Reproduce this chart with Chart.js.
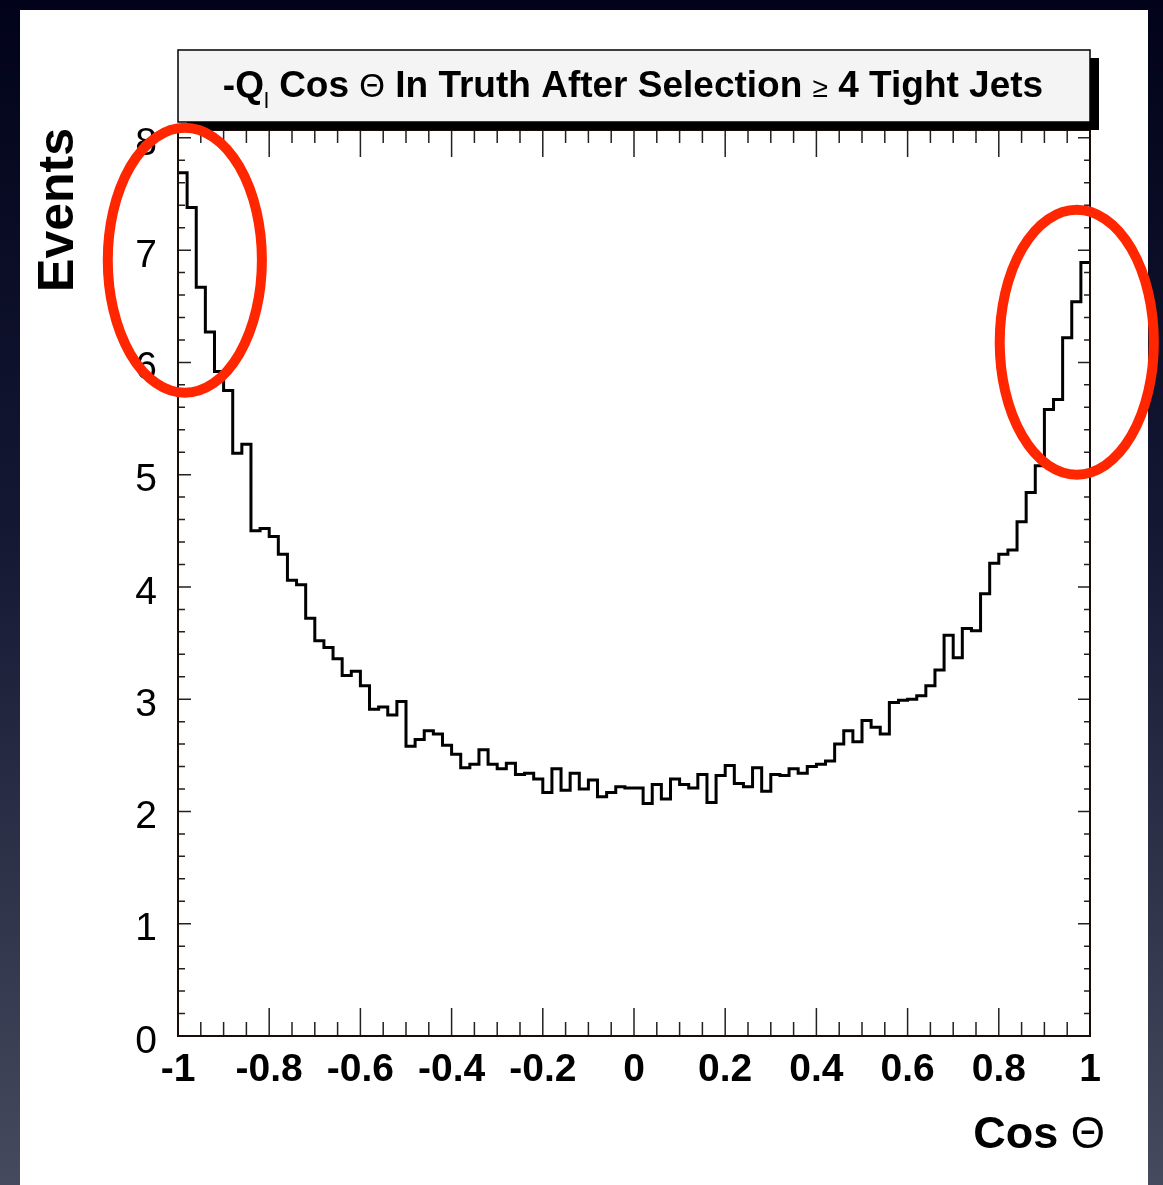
<!DOCTYPE html>
<html>
<head>
<meta charset="utf-8">
<script src="https://cdn.jsdelivr.net/npm/chart.js@4.4.0/dist/chart.umd.min.js"></script>
<style>
  html, body { margin: 0; padding: 0; }
  body {
    width: 1163px; height: 1185px; overflow: hidden; position: relative;
    background: linear-gradient(to bottom, #02031a 0%, #141833 45%, #464a5e 100%);
  }
  #panel { position: absolute; left: 20px; top: 10px; width: 1128px; height: 1175px; background: #fff; }
  #wrap { position: absolute; left: 0; top: 0; width: 1163px; height: 1185px; }
</style>
</head>
<body>
<div id="panel"></div>
<div id="wrap"><canvas id="chart"></canvas></div>
<script>
// histogram range and bin contents (100 bins, -Ql cos theta)
const binLow = -1;
const binHigh = 1;
const events = [
  7.69, 7.38, 6.67, 6.27, 5.92, 5.75, 5.19, 5.27, 4.50, 4.52,
  4.45, 4.29, 4.06, 4.02, 3.72, 3.52, 3.46, 3.36, 3.21, 3.25,
  3.12, 2.91, 2.93, 2.86, 2.98, 2.58, 2.64, 2.72, 2.69, 2.59,
  2.51, 2.39, 2.42, 2.55, 2.42, 2.38, 2.43, 2.33, 2.34, 2.29,
  2.17, 2.38, 2.19, 2.34, 2.20, 2.28, 2.13, 2.17, 2.22, 2.21,
  2.21, 2.07, 2.24, 2.11, 2.29, 2.24, 2.21, 2.33, 2.08, 2.32,
  2.41, 2.25, 2.22, 2.39, 2.18, 2.33, 2.32, 2.38, 2.34, 2.40,
  2.42, 2.45, 2.60, 2.72, 2.62, 2.81, 2.75, 2.69, 2.97, 2.99,
  3.00, 3.03, 3.12, 3.26, 3.57, 3.37, 3.63, 3.61, 3.94, 4.21,
  4.29, 4.33, 4.58, 4.84, 5.08, 5.58, 5.67, 6.22, 6.54, 6.89
];

// axis ticks
const xMajorTicks = [-1, -0.8, -0.6, -0.4, -0.2, 0, 0.2, 0.4, 0.6, 0.8, 1];
const yMajorTicks = [0, 1, 2, 3, 4, 5, 6, 7, 8];
const xMinorDivisions = 4;
const yMinorDivisions = 5;
const yMax = 8.07;

// red hand-drawn ellipses (data units)
const markCenterX = [-0.985, 0.971];
const markCenterY = [6.91, 6.18];
const markHalfWidth = [0.169, 0.169];
const markHalfHeight = [1.18, 1.18];

const xTitle = 'Cos';
const yTitle = 'Events';
const FONT = "'Liberation Sans', Arial, Helvetica, sans-serif";

// step outline points at bin lower edges
const binWidth = (binHigh - binLow) / events.length;
const stepPoints = events.map((v, i) => ({ x: binLow + i * binWidth, y: v }));
stepPoints.push({ x: binHigh, y: events[events.length - 1] });

function drawTitleBox(ctx, area) {
    const left = area.left, right = area.right;
    const top = 50, bottom = 122;

    // shadow
    ctx.fillStyle = '#000';
    ctx.fillRect(left + 9, top + 8, right - left, bottom - top);
    ctx.fillStyle = '#f4f4f4';
    ctx.fillRect(left, top, right - left, bottom - top);
    ctx.strokeStyle = '#000';
    ctx.lineWidth = 1.5;
    ctx.strokeRect(left, top, right - left, bottom - top);

    const parts = [
        { t: '-Q', f: 'bold 37px ' + FONT, dy: 0 },
        { t: 'l', f: '22px ' + FONT, dy: 11 },
        { t: ' Cos ', f: 'bold 37px ' + FONT, dy: 0 },
        { t: '\u0398', f: '33px ' + FONT, dy: 0 },
        { t: ' In Truth After Selection ', f: 'bold 37px ' + FONT, dy: 0 },
        { t: '\u2265', f: '28px ' + FONT, dy: 0 },
        { t: ' 4 Tight Jets', f: 'bold 37px ' + FONT, dy: 0 }
    ];
    let total = 0;
    parts.forEach(p => { ctx.font = p.f; p.w = ctx.measureText(p.t).width; total += p.w; });
    let x = 633 - total / 2;
    const base = 97;
    ctx.fillStyle = '#000';
    ctx.textAlign = 'left';
    ctx.textBaseline = 'alphabetic';
    parts.forEach(p => {
        ctx.font = p.f;
        ctx.fillText(p.t, x, base + p.dy);
        x += p.w;
    });
}

const rootFramePlugin = {
    id: 'rootFrame',
    afterDraw(chart) {
        const ctx = chart.ctx;
        const a = chart.chartArea;
        const xs = chart.scales.x;
        const ys = chart.scales.y;
        ctx.save();

        // ticks pointing inward
        ctx.strokeStyle = '#222';
        ctx.lineWidth = 1.5;
        ctx.beginPath();
        for (let i = 0; i < xMajorTicks.length; i++) {
            const px = xs.getPixelForValue(xMajorTicks[i]);
            ctx.moveTo(px, a.bottom); ctx.lineTo(px, a.bottom - 28);
            ctx.moveTo(px, a.top); ctx.lineTo(px, a.top + 27);
            if (i < xMajorTicks.length - 1) {
                const step = (xMajorTicks[i + 1] - xMajorTicks[i]) / xMinorDivisions;
                for (let k = 1; k < xMinorDivisions; k++) {
                    const mx = xs.getPixelForValue(xMajorTicks[i] + k * step);
                    ctx.moveTo(mx, a.bottom); ctx.lineTo(mx, a.bottom - 14);
                    ctx.moveTo(mx, a.top); ctx.lineTo(mx, a.top + 13);
                }
            }
        }
        for (let i = 0; i < yMajorTicks.length; i++) {
            const py = ys.getPixelForValue(yMajorTicks[i]);
            ctx.moveTo(a.left, py); ctx.lineTo(a.left + 13, py);
            ctx.moveTo(a.right, py); ctx.lineTo(a.right - 12, py);
            const step = 1 / yMinorDivisions;
            for (let k = 1; k < yMinorDivisions; k++) {
                const v = yMajorTicks[i] + k * step;
                if (v > yMax) break;
                const my = ys.getPixelForValue(v);
                ctx.moveTo(a.left, my); ctx.lineTo(a.left + 7, my);
                ctx.moveTo(a.right, my); ctx.lineTo(a.right - 6, my);
            }
        }
        ctx.stroke();

        // frame
        ctx.strokeStyle = '#1a0c08';
        ctx.lineWidth = 2;
        ctx.strokeRect(a.left, a.top, a.right - a.left, a.bottom - a.top);

        drawTitleBox(ctx, a);

        // axis titles
        ctx.fillStyle = '#000';
        ctx.textBaseline = 'alphabetic';
        ctx.textAlign = 'right';
        ctx.font = '44px ' + FONT;
        const thetaW = ctx.measureText('\u0398').width;
        ctx.fillText('\u0398', 1105, 1148);
        ctx.font = 'bold 45px ' + FONT;
        ctx.fillText(xTitle + ' ', 1105 - thetaW, 1148);

        ctx.save();
        ctx.translate(73, 128);
        ctx.rotate(-Math.PI / 2);
        ctx.font = 'bold 50px ' + FONT;
        ctx.textAlign = 'right';
        ctx.fillText(yTitle, 0, 0);
        ctx.restore();

        // red ellipses
        ctx.strokeStyle = 'rgb(255, 38, 0)';
        ctx.lineWidth = 10;
        for (let i = 0; i < markCenterX.length; i++) {
            const cx = xs.getPixelForValue(markCenterX[i]);
            const cy = ys.getPixelForValue(markCenterY[i]);
            const rx = Math.abs(xs.getPixelForValue(markCenterX[i] + markHalfWidth[i]) - cx);
            const ry = Math.abs(ys.getPixelForValue(markCenterY[i] + markHalfHeight[i]) - cy);
            ctx.beginPath();
            ctx.ellipse(cx, cy, rx, ry, 0, 0, Math.PI * 2);
            ctx.stroke();
        }
        ctx.restore();
    }
};

new Chart(document.getElementById('chart'), {
    type: 'line',
    data: {
        datasets: [{
            data: stepPoints,
            stepped: 'before',
            borderColor: '#000',
            borderWidth: 3,
            pointRadius: 0,
            fill: false,
            tension: 0
        }]
    },
    options: {
        responsive: true,
        maintainAspectRatio: false,
        animation: false,
        layout: { padding: { top: 130, right: 73, left: 0, bottom: 0 } },
        plugins: {
            legend: { display: false },
            tooltip: { enabled: false },
            title: { display: false }
        },
        scales: {
            x: {
                type: 'linear',
                min: binLow,
                max: binHigh,
                grid: { display: false },
                border: { display: false },
                afterBuildTicks: scale => { scale.ticks = xMajorTicks.map(v => ({ value: v })); },
                afterFit: scale => { scale.height = 149; },
                ticks: {
                    autoSkip: false,
                    maxRotation: 0,
                    padding: 3,
                    color: '#000',
                    font: { family: FONT, size: 39, weight: 'bold' },
                    callback: v => String(v)
                }
            },
            y: {
                min: 0,
                max: yMax,
                grid: { display: false },
                border: { display: false },
                afterBuildTicks: scale => { scale.ticks = yMajorTicks.map(v => ({ value: v })); },
                afterFit: scale => { scale.width = 178; },
                ticks: {
                    padding: 13,
                    labelOffset: 6,
                    color: '#000',
                    font: { family: FONT, size: 39, weight: 'normal' },
                    callback: v => String(v)
                }
            }
        }
    },
    plugins: [rootFramePlugin]
});
</script>
</body>
</html>
